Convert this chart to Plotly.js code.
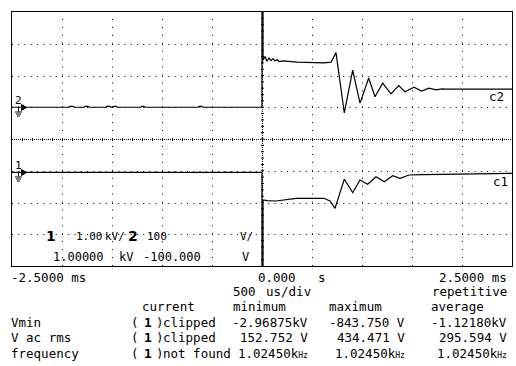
<!DOCTYPE html>
<html><head><meta charset="utf-8">
<script src="https://cdn.plot.ly/plotly-3.0.1.min.js"></script>
<style>html,body{margin:0;padding:0;background:#fff}#chart{width:516px;height:366px}</style>
</head><body><div id="chart"></div>
<script>
// ---- data (time in ms, volts) ----
const ch1Time  = [-2.5, 0, 0, 0.01, 0.01, 0.05, 0.14, 0.24, 0.34, 0.62, 0.68, 0.73, 0.823, 0.907, 0.98, 1.057, 1.14, 1.223, 1.307, 1.38, 1.47, 1.6, 1.75, 1.94, 2.1, 2.3, 2.5];
const ch1Volts = [-50, -50, -3000, -3000, -921, -940, -953, -921, -868, -868, -953, -1183, -269, -691, -291, -427, -187, -345, -156, -238, -134, -120, -112, -125, -100, -95, -80];

const ch2Time  = [-2.5, -1.93, -1.92, -1.89, -1.88, -1.78, -1.77, -1.74, -1.73, -1.56, -1.55, -1.52, -1.51, -1.49, -1.48, -1.46, -1.45, -1.21, -1.20, -1.18, -1.17, -0.64, -0.63, -0.60, -0.59,
                  0, 0, 0.01, 0.01, 0.03, 0.05, 0.07, 0.09, 0.11, 0.13, 0.15, 0.17, 0.21, 0.35, 0.5, 0.62, 0.69, 0.74, 0.823, 0.907, 0.98, 1.067, 1.13, 1.207, 1.29, 1.367, 1.43, 1.52, 1.597, 1.67, 1.74, 1.80, 1.84, 2.5];
const ch2Volts = [0, 0, 3, 3, 0, 0, 3, 3, 0, 0, 3, 3, 0, 0, 3, 3, 0, 0, 3, 3, 0, 0, 3, 3, 0,
                  0, 300, 300, 148, 160, 145, 155, 147, 153, 146, 150, 144, 146, 142, 141, 140, 142, 172, -18, 117, 13, 92, 33, 76, 42, 68, 49, 63, 51, 60, 55, 58, 57, 57];

const xRangeMs = [-2.5, 2.5];
const ch1Range = [-3000, 5000];   // 1.00 kV/div, offset 1.00000 kV
const ch2Range = [-500, 300];     // 100 V/div, offset -100.000 V

const timeLabels = ['-2.5000 ms', '0.000', 's', '2.5000 ms'];
const timebase = ['500', 'us/div', 'repetitive'];
const colHeads = ['current', 'minimum', 'maximum', 'average'];
const measNames = ['Vmin', 'V ac rms', 'frequency'];
const measCurrent = ['clipped', 'clipped', 'not found'];
const measMin = ['-2.96875kV', '152.752 V', '1.02450k<span style="font-size:8px">Hz</span>'];
const measMax = ['-843.750 V', '434.471 V', '1.02450k<span style="font-size:8px">Hz</span>'];
const measAvg = ['-1.12180kV', '295.594 V', '1.02450k<span style="font-size:8px">Hz</span>'];

// ---- layout helpers (pixel -> paper) ----
const L = 12, T = 12, W = 500, H = 254, B = T + H;
const px = x => (x - L) / W;
const py = y => (B - y) / H;
const MONO = 'DejaVu Sans Mono, Liberation Mono, monospace';
const SANS = 'DejaVu Sans, Arial, sans-serif';

function txt(text, x, y, anchor, size, family) {
  return {
    xref: 'paper', yref: 'paper', x: px(x), y: py(y), text: text,
    showarrow: false, xanchor: anchor || 'left', yanchor: 'middle',
    borderpad: 0, borderwidth: 0,
    font: {family: family || MONO, size: size || 12.5, color: '#000'}
  };
}

const shapes = [];
const black = '#000';
// vertical dotted grid columns
for (let k = 1; k < 10; k++) {
  if (k === 5) continue;
  const xf = (50 * k + 0.5) / W;
  shapes.push({type: 'line', xref: 'paper', yref: 'paper', x0: xf, x1: xf, y0: 0, y1: 1,
    line: {color: black, width: 1, dash: '1px,6.9375px'}, layer: 'below'});
}
// horizontal dotted grid rows
for (let k = 1; k < 8; k++) {
  if (k === 4) continue;
  const r = Math.round(B - 31.75 * k);
  const yf = (B - (r + 0.5)) / H;
  shapes.push({type: 'line', xref: 'paper', yref: 'paper', x0: 0, x1: 1, y0: yf, y1: yf,
    line: {color: black, width: 1, dash: '1px,5.25px'}, layer: 'below'});
}
// centre lines with minor ticks
const cy = (B - 139.5) / H, cx = (250.5) / W;
shapes.push({type: 'line', xref: 'paper', yref: 'paper', x0: 0, x1: 1, y0: cy, y1: cy,
  line: {color: black, width: 1, dash: '1px,1px'}, layer: 'below'});
shapes.push({type: 'line', xref: 'paper', yref: 'paper', x0: cx, x1: cx, y0: 0, y1: 1,
  line: {color: black, width: 1, dash: '1px,1px'}, layer: 'below'});
for (let k = 1; k < 50; k++) {
  const xf = (10 * k + 0.5) / W;
  shapes.push({type: 'line', xref: 'paper', yref: 'paper', x0: xf, x1: xf, y0: cy - 1.5 / H, y1: cy + 1.5 / H,
    line: {color: black, width: 1}, layer: 'below'});
}
for (let k = 1; k < 40; k++) {
  const yf = (6.35 * k) / H;
  shapes.push({type: 'line', xref: 'paper', yref: 'paper', x0: cx - 1.5 / W, x1: cx + 1.5 / W, y0: yf, y1: yf,
    line: {color: black, width: 1}, layer: 'below'});
}
// ground markers
function groundMarker(yc) {
  const p = (x, y) => px(x).toFixed(5) + ',' + py(y).toFixed(5);
  shapes.push({type: 'path', xref: 'paper', yref: 'paper',
    path: 'M' + p(21.5, yc - 3) + 'L' + p(26.5, yc) + 'L' + p(21.5, yc + 3) + 'Z',
    fillcolor: black, line: {color: black, width: 1}});
  shapes.push({type: 'line', xref: 'paper', yref: 'paper', x0: px(18.5), x1: px(18.5), y0: py(yc - 1), y1: py(yc + 4),
    line: {color: black, width: 1}});
  [[15, 22, 4.5], [16, 21, 6.5], [17, 20, 8.5]].forEach(b => {
    shapes.push({type: 'line', xref: 'paper', yref: 'paper', x0: px(b[0]), x1: px(b[1]), y0: py(yc + b[2]), y1: py(yc + b[2]),
      line: {color: black, width: 1}});
  });
}
groundMarker(107.5);
groundMarker(172.5);

const annotations = [
  // in-plot labels
  txt('2', 18, 100, 'center', 11),
  txt('1', 18, 165, 'center', 11),
  txt('c2', 489, 97),
  txt('c1', 493, 182),
  txt('<b>1</b>', 50.5, 236, 'center', 14, SANS),
  txt('1.00', 76, 236, 'left', 11),
  txt('kV/', 105, 236, 'left', 11),
  txt('<b>2</b>', 133, 236, 'center', 14, SANS),
  txt('100', 147, 236, 'left', 11),
  txt('V/', 240, 236, 'left', 11),
  txt('1.00000', 53, 257, 'left', 12),
  txt('kV', 119, 257, 'left', 12),
  txt('-100.000', 143, 257, 'left', 12),
  txt('V', 242, 257, 'left', 12),
  // time axis rows
  txt(timeLabels[0], 11, 277),
  txt(timeLabels[1], 258, 277),
  txt(timeLabels[2], 318, 277),
  txt(timeLabels[3], 507, 277, 'right'),
  txt(timebase[0], 233, 291.5),
  txt(timebase[1], 266, 291.5),
  txt(timebase[2], 507, 291.5, 'right'),
  txt(colHeads[0], 142, 306.5),
  txt(colHeads[1], 233, 306.5),
  txt(colHeads[2], 329, 306.5),
  txt(colHeads[3], 431, 306.5)
];
const rowY = [322, 337.5, 353.5];
for (let i = 0; i < 3; i++) {
  annotations.push(txt(measNames[i], 11, rowY[i]));
  annotations.push(txt('(', 131, rowY[i]));
  annotations.push(txt('<b>1</b>', 147.5, rowY[i], 'center', 13));
  annotations.push(txt(')', 156, rowY[i]));
  annotations.push(txt(measCurrent[i], 163, rowY[i]));
  annotations.push(txt(measMin[i], 308, rowY[i], 'right'));
  annotations.push(txt(measMax[i], 405, rowY[i], 'right'));
  annotations.push(txt(measAvg[i], 507, rowY[i], 'right'));
}

const traces = [
  {x: ch1Time, y: ch1Volts, type: 'scatter', mode: 'lines', yaxis: 'y',
   line: {color: black, width: 1.2}, hoverinfo: 'skip'},
  {x: ch2Time, y: ch2Volts, type: 'scatter', mode: 'lines', yaxis: 'y2',
   line: {color: black, width: 1.2}, hoverinfo: 'skip'}
];

const layout = {
  width: 516, height: 366,
  margin: {l: L, r: 516 - L - W, t: T, b: 366 - B, pad: 0},
  paper_bgcolor: '#fff', plot_bgcolor: '#fff',
  showlegend: false,
  xaxis: {range: xRangeMs, showgrid: false, zeroline: false, showticklabels: false, ticks: '',
          showline: true, mirror: true, linecolor: black, linewidth: 1, fixedrange: true},
  yaxis: {range: ch1Range, showgrid: false, zeroline: false, showticklabels: false, ticks: '',
          showline: true, mirror: true, linecolor: black, linewidth: 1, fixedrange: true},
  yaxis2: {range: ch2Range, overlaying: 'y', visible: false, fixedrange: true},
  shapes: shapes,
  annotations: annotations
};

Plotly.newPlot('chart', traces, layout, {staticPlot: true, displayModeBar: false});
</script></body></html>
